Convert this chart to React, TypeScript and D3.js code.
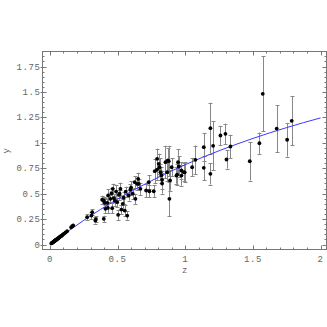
import React from "react";
import * as d3 from "d3";

// fitted curve
const curveZ = [0, 0.25, 0.5, 0.75, 1, 1.25, 1.5, 1.75, 2];
const curveY = [0, 0.238, 0.447, 0.627, 0.785, 0.922, 1.043, 1.15, 1.245];

// low redshift points
const lowZ = [0.01, 0.014, 0.016, 0.02, 0.023, 0.026, 0.028, 0.03, 0.033, 0.036, 0.038, 0.041, 0.043, 0.046, 0.05, 0.053, 0.056, 0.06, 0.064, 0.068, 0.072, 0.077, 0.082, 0.088, 0.094, 0.1, 0.108, 0.116, 0.127, 0.157, 0.165, 0.172];
const lowY = [0.011, 0.014, 0.017, 0.021, 0.022, 0.027, 0.029, 0.031, 0.033, 0.037, 0.039, 0.042, 0.043, 0.047, 0.051, 0.052, 0.057, 0.06, 0.066, 0.069, 0.073, 0.078, 0.084, 0.087, 0.096, 0.103, 0.11, 0.119, 0.131, 0.17, 0.181, 0.187];
const lowErr = [0.003, 0.003, 0.003, 0.003, 0.003, 0.004, 0.004, 0.004, 0.004, 0.004, 0.004, 0.004, 0.005, 0.005, 0.005, 0.005, 0.005, 0.005, 0.006, 0.006, 0.006, 0.006, 0.006, 0.007, 0.007, 0.007, 0.008, 0.008, 0.008, 0.01, 0.01, 0.01];

// mid redshift points
const midZ = [0.275, 0.307, 0.312, 0.336, 0.34, 0.386, 0.398, 0.398, 0.405, 0.41, 0.423, 0.428, 0.43, 0.447, 0.455, 0.46, 0.464, 0.472, 0.48, 0.489, 0.497, 0.504, 0.509, 0.515, 0.521, 0.528, 0.538, 0.545, 0.553, 0.56, 0.571, 0.582, 0.595, 0.6, 0.612, 0.627, 0.632, 0.644, 0.652, 0.656, 0.669];
const midY = [0.269, 0.285, 0.318, 0.236, 0.25, 0.44, 0.433, 0.253, 0.41, 0.351, 0.41, 0.36, 0.482, 0.449, 0.504, 0.357, 0.548, 0.455, 0.43, 0.521, 0.416, 0.292, 0.489, 0.5, 0.548, 0.344, 0.4, 0.46, 0.334, 0.52, 0.285, 0.482, 0.541, 0.56, 0.5, 0.613, 0.449, 0.597, 0.646, 0.597, 0.548];
const midErr = [0.03, 0.035, 0.03, 0.03, 0.03, 0.04, 0.035, 0.03, 0.05, 0.04, 0.04, 0.05, 0.06, 0.04, 0.05, 0.05, 0.05, 0.04, 0.05, 0.06, 0.045, 0.05, 0.05, 0.04, 0.06, 0.045, 0.05, 0.06, 0.05, 0.05, 0.04, 0.05, 0.05, 0.06, 0.05, 0.06, 0.05, 0.06, 0.06, 0.05, 0.06];

// upper-mid points
const upZ = [0.711, 0.73, 0.735, 0.767, 0.775, 0.792, 0.792, 0.804, 0.81, 0.817, 0.824, 0.829, 0.829, 0.854, 0.866, 0.871, 0.878, 0.883, 0.888, 0.9, 0.935, 0.94, 0.947, 0.952, 0.972, 0.972, 0.989, 0.996, 1.051, 1.075];
const upY = [0.531, 0.613, 0.524, 0.524, 0.721, 0.737, 0.843, 0.793, 0.76, 0.711, 0.68, 0.636, 0.6, 0.81, 0.711, 0.826, 0.82, 0.449, 0.63, 0.76, 0.678, 0.688, 0.81, 0.767, 0.678, 0.728, 0.711, 0.71, 0.76, 0.833];
const upErr = [0.065, 0.07, 0.06, 0.06, 0.12, 0.1, 0.1, 0.1, 0.09, 0.08, 0.08, 0.09, 0.1, 0.16, 0.09, 0.12, 0.15, 0.17, 0.1, 0.09, 0.08, 0.1, 0.13, 0.1, 0.1, 0.08, 0.09, 0.1, 0.087, 0.14];

// high redshift points
const highZ = [1.137, 1.137, 1.186, 1.186, 1.206, 1.26, 1.297, 1.305, 1.334, 1.477, 1.548, 1.573, 1.676, 1.753, 1.787];
const highY = [0.957, 0.754, 1.144, 0.695, 0.97, 1.072, 1.088, 0.836, 0.964, 0.819, 0.996, 1.482, 1.14, 1.03, 1.216];
const highErr = [0.135, 0.12, 0.25, 0.105, 0.24, 0.095, 0.1, 0.09, 0.115, 0.19, 0.105, 0.37, 0.23, 0.165, 0.24];

const xTicks = [0, 0.5, 1, 1.5, 2];
const xTickLabels = ["0", "0.5", "1", "1.5", "2"];
const yTicks = [0, 0.25, 0.5, 0.75, 1, 1.25, 1.5, 1.75];
const yTickLabels = ["0", "0.25", "0.5", "0.75", "1", "1.25", "1.5", "1.75"];

export default function App() {
    const width = 327;
    const height = 327;
    const left = 42.5, right = 326.5, top = 51.5, bottom = 249.5;

    const x = d3.scaleLinear().domain([-0.055, 2.044]).range([left, right]);
    const y = d3.scaleLinear().domain([-0.049, 1.898]).range([bottom, top]);

    const zs = [...lowZ, ...midZ, ...upZ, ...highZ];
    const ys = [...lowY, ...midY, ...upY, ...highY];
    const es = [...lowErr, ...midErr, ...upErr, ...highErr];
    const points = zs.map((z, i) => ({ z, y: ys[i], e: es[i] }));

    const line = d3.line<number>()
        .x((d, i) => x(curveZ[i]))
        .y((d) => y(d))
        .curve(d3.curveMonotoneX);

    const xMinor = d3.range(0, 2.05, 0.1).filter((v) => Math.abs(v * 2 - Math.round(v * 2)) > 1e-6);
    const yMinor = d3.range(0, 1.9, 0.05).filter((v) => Math.abs(v * 4 - Math.round(v * 4)) > 1e-6);

    const frameColor = "#777";
    const textStyle = { fontFamily: "'Liberation Mono', 'DejaVu Sans Mono', monospace", fontSize: 9, fill: "#666", letterSpacing: 0.6 };

    return (
        <svg width={width} height={height} style={{ position: "absolute", left: 0, top: 0 }}>
            <rect x={0} y={0} width={width} height={height} fill="white" />
            {/* error bars */}
            <g stroke="#888" strokeWidth={1} fill="none">
                {points.filter((p) => p.e > 0.015).map((p, i) => {
                    const cx = Math.round(x(p.z)) + 0.5;
                    return (
                        <g key={i}>
                            <line x1={cx} x2={cx} y1={y(p.y + p.e)} y2={y(p.y - p.e)} />
                            <line x1={cx - 2} x2={cx + 2} y1={Math.round(y(p.y + p.e)) + 0.5} y2={Math.round(y(p.y + p.e)) + 0.5} />
                            <line x1={cx - 2} x2={cx + 2} y1={Math.round(y(p.y - p.e)) + 0.5} y2={Math.round(y(p.y - p.e)) + 0.5} />
                        </g>
                    );
                })}
            </g>
            {/* fit curve */}
            <path d={line(curveY) || ""} fill="none" stroke="#3a3aff" strokeWidth={1} />
            {/* points */}
            <g fill="black">
                {points.map((p, i) => (
                    <circle key={i} cx={x(p.z)} cy={y(p.y)} r={1.9} />
                ))}
            </g>
            {/* frame */}
            <rect x={left} y={top} width={right - left} height={bottom - top} fill="none" stroke={frameColor} strokeWidth={1} />
            <g stroke={frameColor} strokeWidth={1}>
                {xTicks.map((t) => (
                    <g key={"xt" + t}>
                        <line x1={Math.round(x(t)) + 0.5} x2={Math.round(x(t)) + 0.5} y1={bottom} y2={bottom - 4} />
                        <line x1={Math.round(x(t)) + 0.5} x2={Math.round(x(t)) + 0.5} y1={top} y2={top + 4} />
                    </g>
                ))}
                {xMinor.map((t) => (
                    <g key={"xm" + t}>
                        <line x1={Math.round(x(t)) + 0.5} x2={Math.round(x(t)) + 0.5} y1={bottom} y2={bottom - 2} />
                        <line x1={Math.round(x(t)) + 0.5} x2={Math.round(x(t)) + 0.5} y1={top} y2={top + 2} />
                    </g>
                ))}
                {yTicks.map((t) => (
                    <g key={"yt" + t}>
                        <line x1={left - 2} x2={left + 4} y1={Math.round(y(t)) + 0.5} y2={Math.round(y(t)) + 0.5} />
                        <line x1={right} x2={right - 4} y1={Math.round(y(t)) + 0.5} y2={Math.round(y(t)) + 0.5} />
                    </g>
                ))}
                {yMinor.map((t) => (
                    <g key={"ym" + t}>
                        <line x1={left} x2={left + 2} y1={Math.round(y(t)) + 0.5} y2={Math.round(y(t)) + 0.5} />
                        <line x1={right} x2={right - 2} y1={Math.round(y(t)) + 0.5} y2={Math.round(y(t)) + 0.5} />
                    </g>
                ))}
            </g>
            {/* tick labels */}
            {xTicks.map((t, i) => (
                <text key={"xl" + t} x={x(t)} y={262} textAnchor="middle" style={textStyle}>{xTickLabels[i]}</text>
            ))}
            {yTicks.map((t, i) => (
                <text key={"yl" + t} x={left - 2} y={y(t) + 3} textAnchor="end" style={textStyle}>{yTickLabels[i]}</text>
            ))}
            <text x={185} y={273} textAnchor="middle" style={textStyle}>z</text>
            <text transform={`translate(9,${(top + bottom) / 2}) rotate(-90)`} textAnchor="middle" style={textStyle}>y</text>
        </svg>
    );
}
